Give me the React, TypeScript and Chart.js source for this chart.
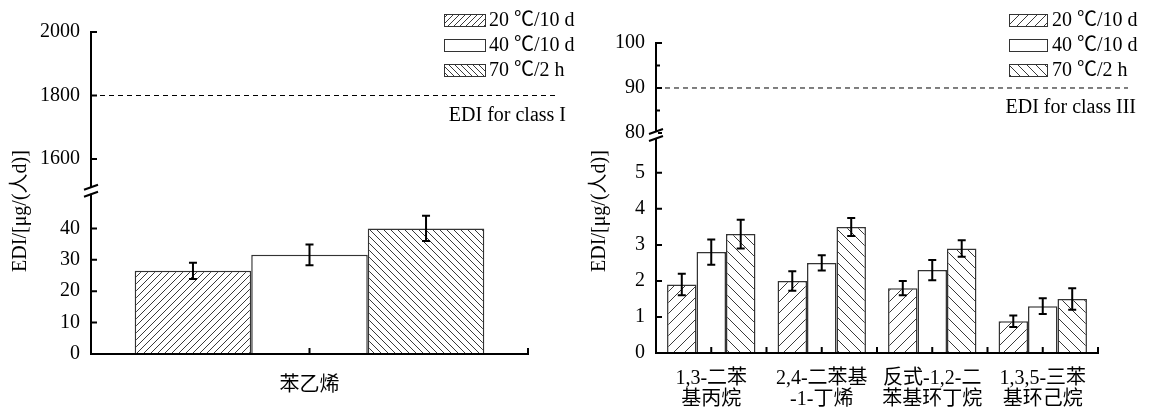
import React, { useEffect, useRef } from 'react';
import { Chart, registerables } from 'chart.js';

Chart.register(...registerables);

// ---------- data ----------
const seriesNames = ['20 ℃/10 d', '40 ℃/10 d', '70 ℃/2 h'];
const yTitle = 'EDI/[μg/(人d)]';

const leftCategories = ['苯乙烯'];
const leftS1 = [26.5];
const leftS2 = [31.6];
const leftS3 = [40.0];
const leftE1 = [2.6];
const leftE2 = [3.3];
const leftE3 = [4.0];
const leftLowTicks = [0, 10, 20, 30, 40];
const leftHighTicks = [1600, 1800, 2000];
const leftHighMinor: number[] = [];
const leftThreshold = 1800;
const leftThresholdLabel = 'EDI for class I';

const rightCategories = [
  ['1,3-二苯', '基丙烷'],
  ['2,4-二苯基', '-1-丁烯'],
  ['反式-1,2-二', '苯基环丁烷'],
  ['1,3,5-三苯', '基环己烷'],
];
const rightS1 = [1.9, 2.0, 1.8, 0.88];
const rightS2 = [2.8, 2.5, 2.3, 1.3];
const rightS3 = [3.3, 3.5, 2.9, 1.5];
const rightE1 = [0.3, 0.27, 0.2, 0.16];
const rightE2 = [0.35, 0.21, 0.28, 0.22];
const rightE3 = [0.4, 0.25, 0.23, 0.3];
const rightLowTicks = [0, 1, 2, 3, 4, 5];
const rightHighTicks = [80, 90, 100];
const rightHighMinor = [85, 95];
const rightThreshold = 90;
const rightThresholdLabel = 'EDI for class III';

// ---------- styling ----------
const FONT = "'Liberation Serif', 'Noto Sans CJK SC', serif";
const INK = '#000000';

function makeHatch(ctx: CanvasRenderingContext2D, s: number, dir: number) {
  const c = document.createElement('canvas');
  c.width = s;
  c.height = s;
  const g = c.getContext('2d')!;
  g.fillStyle = '#ffffff';
  g.fillRect(0, 0, s, s);
  g.strokeStyle = '#3a3a3a';
  g.lineWidth = 1;
  g.beginPath();
  if (dir > 0) {
    g.moveTo(-1, s + 1); g.lineTo(s + 1, -1);
    g.moveTo(-1, 1); g.lineTo(1, -1);
    g.moveTo(s - 1, s + 1); g.lineTo(s + 1, s - 1);
  } else {
    g.moveTo(-1, -1); g.lineTo(s + 1, s + 1);
    g.moveTo(s - 1, -1); g.lineTo(s + 1, 1);
    g.moveTo(-1, s - 1); g.lineTo(1, s + 1);
  }
  g.stroke();
  return ctx.createPattern(c, 'repeat') as CanvasPattern;
}

type Cfg = {
  left: number; width: number; height: number;
  categories: any[];
  series: number[][]; errors: number[][];
  lowMax: number; lowTicks: number[];
  highMin: number; highMax: number; highTicks: number[]; highMinor: number[];
  threshold: number; thresholdLabel: string;
  pad: { left: number; right: number; top: number; bottom: number };
  yWidth: number; xHeight: number; xPad: number;
  lowWeight: number; highWeight: number;
  hatch: number; legendHatch: number;
  legend: { boxX: number; boxW: number; boxH: number; textX: number; rows: number[] };
  titleX: number; titleY: number; dashEnd: number; labelRight: number;
};

function Panel({ cfg }: { cfg: Cfg }) {
  const ref = useRef<HTMLCanvasElement>(null);
  useEffect(() => {
    const canvas = ref.current!;
    const ctx = canvas.getContext('2d')!;
    const fills: any[] = [makeHatch(ctx, cfg.hatch, 1), '#ffffff', makeHatch(ctx, cfg.hatch, -1)];
    const legendFills: any[] = [makeHatch(ctx, cfg.legendHatch, 1), '#ffffff', makeHatch(ctx, cfg.legendHatch, -1)];

    const datasets = cfg.series.map((d, i) => ({
      label: seriesNames[i],
      data: d,
      backgroundColor: fills[i],
      borderColor: '#333333',
      borderWidth: 1.5,
      borderSkipped: 'bottom' as const,
      yAxisID: 'yLow',
      barPercentage: 1,
      categoryPercentage: 0.8,
    }));

    const decor = {
      id: 'decor',
      afterDatasetsDraw(chart: any) {
        const c = chart.ctx;
        const yl = chart.scales.yLow;
        c.save();
        c.strokeStyle = INK;
        c.lineWidth = 2;
        cfg.errors.forEach((errs, di) => {
          const meta = chart.getDatasetMeta(di);
          meta.data.forEach((el: any, j: number) => {
            const v = cfg.series[di][j];
            const e = errs[j];
            const yTop = yl.getPixelForValue(v + e);
            const yBot = yl.getPixelForValue(v - e);
            const x = el.x;
            c.beginPath();
            c.moveTo(x, yTop); c.lineTo(x, yBot);
            c.moveTo(x - 4, yTop); c.lineTo(x + 4, yTop);
            c.moveTo(x - 4, yBot); c.lineTo(x + 4, yBot);
            c.stroke();
          });
        });
        c.restore();
      },
      afterDraw(chart: any) {
        const c = chart.ctx;
        const area = chart.chartArea;
        const yl = chart.scales.yLow;
        const yh = chart.scales.yHigh;
        const xs = chart.scales.x;
        c.save();
        // inward ticks
        c.strokeStyle = INK;
        c.lineWidth = 2;
        c.beginPath();
        [yl, yh].forEach((s: any) => {
          s.ticks.forEach((t: any) => {
            const y = s.getPixelForValue(t.value);
            c.moveTo(area.left, y); c.lineTo(area.left + 6, y);
          });
        });
        cfg.highMinor.forEach((v) => {
          const y = yh.getPixelForValue(v);
          c.moveTo(area.left, y); c.lineTo(area.left + 4, y);
        });
        const n = cfg.categories.length;
        const step = (xs.right - xs.left) / n;
        for (let i = 0; i < n; i++) {
          const cx = xs.getPixelForValue(i);
          const bx = xs.left + (i + 1) * step;
          c.moveTo(cx, area.bottom); c.lineTo(cx, area.bottom - 6);
          c.moveTo(bx, area.bottom); c.lineTo(bx, area.bottom - 6);
        }
        c.stroke();

        // axis break
        const yb = Math.max(yl.top, yh.top) === yl.top ? yl.top : yh.top;
        const ax = area.left;
        c.fillStyle = '#ffffff';
        c.fillRect(ax - 2, yb - 3, 4, 6);
        c.beginPath();
        c.moveTo(ax - 7, yb - 1); c.lineTo(ax + 7, yb - 6);
        c.moveTo(ax - 7, yb + 6); c.lineTo(ax + 7, yb + 1);
        c.stroke();

        // threshold line
        const ty = yh.getPixelForValue(cfg.threshold);
        c.lineWidth = 1;
        c.setLineDash([5, 4]);
        c.beginPath();
        c.moveTo(area.left, ty); c.lineTo(cfg.dashEnd, ty);
        c.stroke();
        c.setLineDash([]);
        c.fillStyle = INK;
        c.font = `20px ${FONT}`;
        c.textAlign = 'right';
        c.textBaseline = 'middle';
        c.fillText(cfg.thresholdLabel, cfg.labelRight, ty + 20);

        // legend
        const L = cfg.legend;
        c.textAlign = 'left';
        seriesNames.forEach((name, i) => {
          const ry = L.rows[i];
          c.fillStyle = legendFills[i];
          c.fillRect(L.boxX, ry - L.boxH / 2, L.boxW, L.boxH);
          c.strokeStyle = '#333333';
          c.lineWidth = 1;
          c.strokeRect(L.boxX + 0.5, ry - L.boxH / 2 + 0.5, L.boxW, L.boxH);
          c.fillStyle = INK;
          c.fillText(name, L.textX, ry + 1);
        });

        // y title
        c.translate(cfg.titleX, cfg.titleY);
        c.rotate(-Math.PI / 2);
        c.textAlign = 'center';
        c.textBaseline = 'middle';
        c.fillText(yTitle, 0, 0);
        c.restore();
      },
    };

    const tickFont = { family: FONT, size: 20, lineHeight: 1.05 };
    const yTicks = { color: INK, font: tickFont, padding: 11, autoSkip: false, callback: (v: any) => String(v) };
    const chart = new Chart(canvas, {
      type: 'bar',
      data: { labels: cfg.categories, datasets },
      options: {
        responsive: false,
        animation: false,
        events: [],
        layout: { padding: cfg.pad },
        plugins: { legend: { display: false }, tooltip: { enabled: false } },
        scales: {
          x: {
            type: 'category',
            grid: { display: false, drawTicks: false },
            border: { display: true, color: INK, width: 2, z: 1 },
            ticks: { color: INK, font: tickFont, padding: cfg.xPad, maxRotation: 0, autoSkip: false },
            afterFit: (s: any) => { s.height = cfg.xHeight; },
          },
          yLow: {
            type: 'linear',
            position: 'left',
            stack: 'y',
            stackWeight: cfg.lowWeight,
            min: 0,
            max: cfg.lowMax,
            grid: { display: false, drawTicks: false },
            border: { display: true, color: INK, width: 2, z: 1 },
            ticks: yTicks,
            afterBuildTicks: (s: any) => { s.ticks = cfg.lowTicks.map((v) => ({ value: v })); },
            afterFit: (s: any) => { s.width = cfg.yWidth; },
          },
          yHigh: {
            type: 'linear',
            position: 'left',
            stack: 'y',
            stackWeight: cfg.highWeight,
            min: cfg.highMin,
            max: cfg.highMax,
            grid: { display: false, drawTicks: false },
            border: { display: true, color: INK, width: 2, z: 1 },
            ticks: yTicks,
            afterBuildTicks: (s: any) => { s.ticks = cfg.highTicks.map((v) => ({ value: v })); },
            afterFit: (s: any) => { s.width = cfg.yWidth; },
          },
        } as any,
      },
      plugins: [decor],
    });
    return () => chart.destroy();
  }, []);
  return (
    <canvas
      ref={ref}
      width={cfg.width}
      height={cfg.height}
      style={{ position: 'absolute', left: cfg.left, top: 0, width: cfg.width, height: cfg.height, display: 'block' }}
    />
  );
}

const leftCfg: Cfg = {
  left: 0, width: 575, height: 408,
  categories: leftCategories,
  series: [leftS1, leftS2, leftS3],
  errors: [leftE1, leftE2, leftE3],
  lowMax: 52, lowTicks: leftLowTicks,
  highMin: 1500, highMax: 2000, highTicks: leftHighTicks, highMinor: leftHighMinor,
  threshold: leftThreshold, thresholdLabel: leftThresholdLabel,
  pad: { left: 0, right: 47, top: 32, bottom: 0 },
  yWidth: 91, xHeight: 54, xPad: 21,
  lowWeight: 163.25, highWeight: 158.75,
  hatch: 7, legendHatch: 6,
  legend: { boxX: 444, boxW: 41, boxH: 12, textX: 489, rows: [20, 45, 70] },
  titleX: 21, titleY: 211, dashEnd: 557, labelRight: 566,
};

const rightCfg: Cfg = {
  left: 575, width: 575, height: 408,
  categories: rightCategories,
  series: [rightS1, rightS2, rightS3],
  errors: [rightE1, rightE2, rightE3],
  lowMax: 6.05, lowTicks: rightLowTicks,
  highMin: 79.55, highMax: 100, highTicks: rightHighTicks, highMinor: rightHighMinor,
  threshold: rightThreshold, thresholdLabel: rightThresholdLabel,
  pad: { left: 0, right: 52, top: 43, bottom: 0 },
  yWidth: 81, xHeight: 55, xPad: 15,
  lowWeight: 218, highWeight: 92,
  hatch: 11, legendHatch: 9,
  legend: { boxX: 434, boxW: 38, boxH: 12, textX: 477, rows: [20, 45, 70] },
  titleX: 25, titleY: 211, dashEnd: 553, labelRight: 561,
};

export default function App() {
  return (
    <div style={{ position: 'absolute', left: 0, top: 0, width: 1150, height: 408, background: '#ffffff', overflow: 'hidden' }}>
      <Panel cfg={leftCfg} />
      <Panel cfg={rightCfg} />
    </div>
  );
}
